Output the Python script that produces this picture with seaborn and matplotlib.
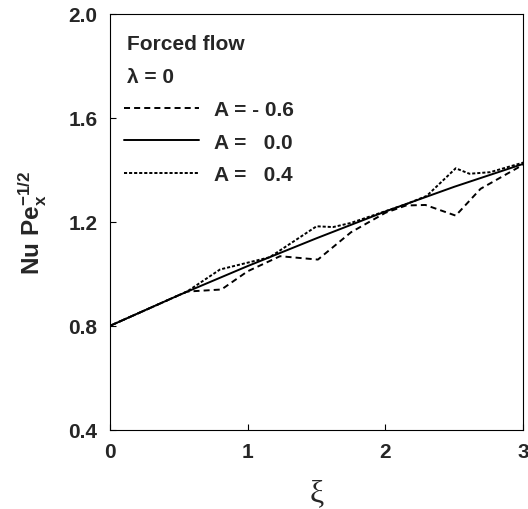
import matplotlib
matplotlib.use("Agg")
import matplotlib.pyplot as plt
import numpy as np
import pandas as pd
import seaborn as sns

# curves
xi_solid = [0.0, 0.5, 1.0, 1.5, 2.0, 2.5, 3.0]
nu_solid = [0.800, 0.918, 1.030, 1.137, 1.240, 1.335, 1.423]

xi_neg = [0.0, 0.5, 0.56, 0.81, 1.0, 1.235, 1.51, 1.75, 2.0, 2.15, 2.29, 2.51, 2.69, 3.0]
nu_neg = [0.800, 0.918, 0.932, 0.940, 1.010, 1.068, 1.055, 1.160, 1.235, 1.263, 1.265, 1.224, 1.327, 1.420]

xi_pos = [0.0, 0.5, 0.56, 0.80, 1.16, 1.50, 1.62, 1.75, 2.155, 2.30, 2.51, 2.61, 2.76, 3.0]
nu_pos = [0.800, 0.918, 0.932, 1.017, 1.064, 1.183, 1.180, 1.196, 1.269, 1.300, 1.406, 1.385, 1.391, 1.428]

amplitudes = ["A = - 0.6", "A =   0.0", "A =   0.4"]

df = pd.concat([
    pd.DataFrame({"xi": xi_neg, "nu": nu_neg, "A": amplitudes[0]}),
    pd.DataFrame({"xi": xi_solid, "nu": nu_solid, "A": amplitudes[1]}),
    pd.DataFrame({"xi": xi_pos, "nu": nu_pos, "A": amplitudes[2]}),
])

sns.set_style("ticks")
plt.rcParams["font.family"] = ["Liberation Sans", "DejaVu Sans"]
plt.rcParams["font.weight"] = "bold"
plt.rcParams["mathtext.fontset"] = "custom"
plt.rcParams["mathtext.rm"] = "Liberation Sans:bold"
plt.rcParams["mathtext.it"] = "Liberation Sans:bold"
plt.rcParams["mathtext.bf"] = "Liberation Sans:bold"

fig = plt.figure(figsize=(5.28, 5.10), dpi=100)
ax = fig.add_axes([0.208, 0.155, 0.783, 0.816])

lw = 1.4
line_dashes = {amplitudes[0]: (3.1, 2.1), amplitudes[1]: "", amplitudes[2]: (1.6, 1.0)}
sns.lineplot(data=df, x="xi", y="nu", style="A", style_order=amplitudes,
             dashes=line_dashes, color="black", linewidth=lw,
             estimator=None, sort=True, legend=False, ax=ax)

ax.set_xlim(0, 3)
ax.set_ylim(0.4, 2.0)
ax.set_xticks([0, 1, 2, 3])
ax.set_yticks([0.4, 0.8, 1.2, 1.6, 2.0])
ax.set_yticklabels(["0.4", "0.8", "1.2", "1.6", "2.0"])
ax.tick_params(direction="in", length=4.5, width=0.8, labelsize=15, pad=9,
               top=False, right=False, color="black")
for s in ax.spines.values():
    s.set_linewidth(0.8)
    s.set_color("black")

ax.set_xlabel("ξ", fontsize=23, labelpad=12, family=["Liberation Serif", "DejaVu Serif"])
ax.set_ylabel(r"$\mathrm{Nu\ Pe}_{x}^{-1/2}$", fontsize=17.5, labelpad=14)

ax.text(0.041, 0.928, "Forced flow", transform=ax.transAxes, fontsize=15,
        fontweight="bold", va="center", ha="left")
ax.text(0.041, 0.850, "λ = 0", transform=ax.transAxes, fontsize=15,
        fontweight="bold", va="center", ha="left")

handles = ax.get_lines()[:3]
ax.legend(handles, amplitudes, loc="upper left", bbox_to_anchor=(0.035, 0.793),
          frameon=False, fontsize=15, handlelength=3.6, handletextpad=0.7,
          labelspacing=0.66, borderpad=0, borderaxespad=0)

fig.savefig("out.png", dpi=100)
